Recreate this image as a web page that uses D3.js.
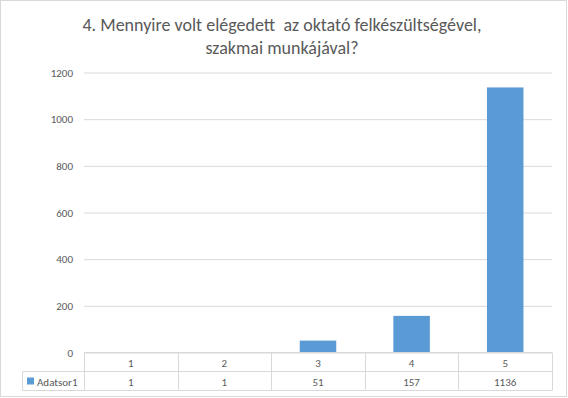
<!DOCTYPE html>
<html>
<head>
<meta charset="utf-8">
<title>Chart</title>
<style>
  html, body {margin: 0; padding: 0; background: #ffffff; overflow: hidden;}
  svg {display: block;}
  text {font-family: Carlito, Calibri, Lato, "Open Sans", sans-serif; fill: #595959;}
</style>
</head>
<body>
<div id="chart"></div>
<script src="https://cdn.jsdelivr.net/npm/d3@7"></script>
<script>
// data
var categories = ["1", "2", "3", "4", "5"];
var values = [1, 1, 51, 157, 1136];
var yTicks = [0, 200, 400, 600, 800, 1000, 1200];
var seriesName = "Adatsor1";
var titleLines = ["4. Mennyire volt elégedett  az oktató felkészültségével,", "szakmai munkájával?"];

var width = 568, height = 398;
var plot = {left: 84, right: 552, top: 72.5, bottom: 352.5};
var barColor = "#5b9bd5", lineColor = "#d9d9d9";

var svg = d3.select("#chart").append("svg")
    .attr("width", width)
    .attr("height", height);

// outer frame
svg.append("rect")
    .attr("x", 0.5).attr("y", 0.5)
    .attr("width", 566).attr("height", 396)
    .attr("fill", "#fff")
    .attr("stroke", lineColor);

// title
svg.append("g").selectAll("text")
    .data(titleLines)
  .enter().append("text")
    .attr("x", 282)
    .attr("y", function(d, i) { return 31 + i * 23; })
    .attr("text-anchor", "middle")
    .style("font-size", "18px")
    .style("white-space", "pre")
    .text(function(d) { return d; });

var x = d3.scaleBand()
    .domain(categories)
    .range([plot.left, plot.right]);

var xBar = d3.scaleBand()
    .domain(categories)
    .range([plot.left, plot.right])
    .paddingInner(0.61)
    .paddingOuter(0.305);

var y = d3.scaleLinear()
    .domain([0, 1200])
    .range([plot.bottom, plot.top]);

// gridlines + y labels
var yAxis = d3.axisLeft(y)
    .tickValues(yTicks)
    .tickFormat(d3.format("d"))
    .tickSize(-(plot.right - plot.left))
    .tickPadding(11);

var gy = svg.append("g")
    .attr("transform", "translate(" + plot.left + ",0)")
    .call(yAxis);
gy.select(".domain").remove();
gy.selectAll("line").attr("stroke", lineColor);
gy.selectAll("text")
    .style("font-size", "11px")
    .style("font-family", "Carlito, Calibri, Lato, sans-serif")
    .attr("fill", "#595959");

// bars
svg.append("g").selectAll("rect")
    .data(values)
  .enter().append("rect")
    .attr("x", function(d, i) { return xBar(categories[i]); })
    .attr("width", xBar.bandwidth())
    .attr("y", function(d) { return y(d); })
    .attr("height", function(d) { return y(0) - y(d); })
    .attr("fill", barColor);

// data table
var rowH = 19;
var t = svg.append("g").attr("class", "table");
var tTop = plot.bottom, tMid = plot.bottom + rowH, tBot = plot.bottom + 2 * rowH;
var legendLeft = 22.5;

t.append("line").attr("x1", plot.left).attr("x2", plot.right).attr("y1", tTop).attr("y2", tTop);
t.append("line").attr("x1", legendLeft).attr("x2", plot.right).attr("y1", tMid).attr("y2", tMid);
t.append("line").attr("x1", legendLeft).attr("x2", plot.right).attr("y1", tBot).attr("y2", tBot);
t.append("line").attr("x1", legendLeft).attr("x2", legendLeft).attr("y1", tMid).attr("y2", tBot);

var edges = categories.map(function(c) { return x(c); }).concat([plot.right]);
t.selectAll(".vline")
    .data(edges)
  .enter().append("line")
    .attr("class", "vline")
    .attr("x1", function(d) { return Math.round(d) + 0.5; })
    .attr("x2", function(d) { return Math.round(d) + 0.5; })
    .attr("y1", tTop).attr("y2", tBot);
t.selectAll("line").attr("stroke", lineColor);

t.selectAll(".cat")
    .data(categories)
  .enter().append("text")
    .attr("class", "cat")
    .attr("x", function(d) { return x(d) + x.bandwidth() / 2; })
    .attr("y", tTop + 14)
    .attr("text-anchor", "middle")
    .style("font-size", "11px")
    .text(function(d) { return d; });

t.selectAll(".val")
    .data(values)
  .enter().append("text")
    .attr("class", "val")
    .attr("x", function(d, i) { return x(categories[i]) + x.bandwidth() / 2; })
    .attr("y", tMid + 14)
    .attr("text-anchor", "middle")
    .style("font-size", "11px")
    .text(function(d) { return d; });

// legend key
t.append("rect")
    .attr("x", 27).attr("y", tMid + 6)
    .attr("width", 7).attr("height", 7)
    .attr("fill", barColor);
t.append("text")
    .attr("x", 37)
    .attr("y", tMid + 14)
    .style("font-size", "11px")
    .text(seriesName);
</script>
</body>
</html>
